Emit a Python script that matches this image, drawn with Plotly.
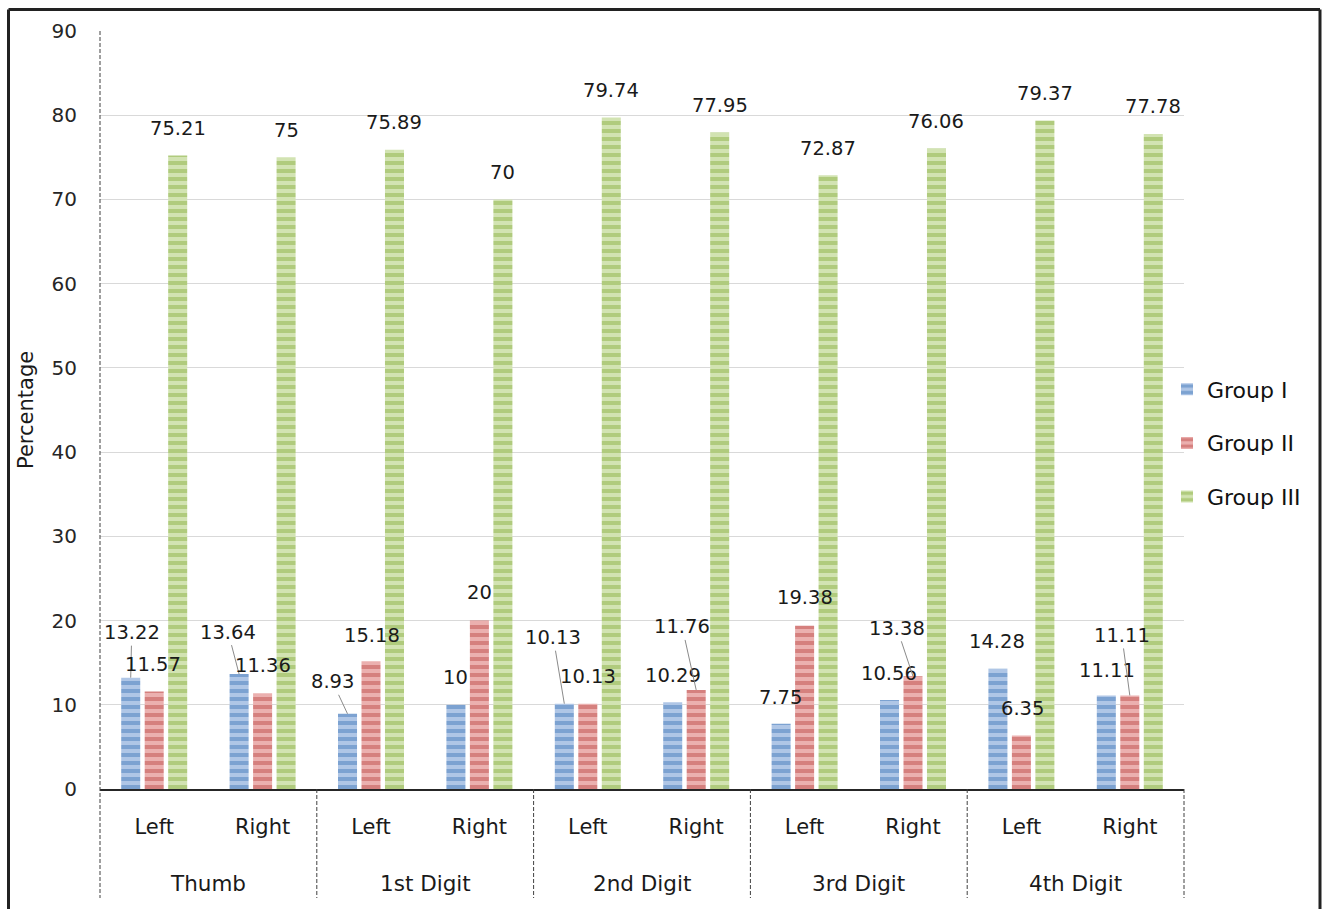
import plotly.graph_objects as go

# Finger-print pattern percentages by digit and hand
digits = ["Thumb", "1st Digit", "2nd Digit", "3rd Digit", "4th Digit"]
sides = ["Left", "Right"]
group_i = [13.22, 13.64, 8.93, 10, 10.13, 10.29, 7.75, 10.56, 14.28, 11.11]
group_ii = [11.57, 11.36, 15.18, 20, 10.13, 11.76, 19.38, 13.38, 6.35, 11.11]
group_iii = [75.21, 75, 75.89, 70, 79.74, 77.95, 72.87, 76.06, 79.37, 77.78]
y_ticks = [0, 10, 20, 30, 40, 50, 60, 70, 80, 90]

categories = [f"{d} {s}" for d in digits for s in sides]
side_labels = [s for d in digits for s in sides]

FONT = "DejaVu Sans"
W, H = 1325, 909
ML, MR, MT, MB = 100, 141, 31, 120
PW, PH = W - ML - MR, H - MT - MB


def px_x(p):
    return (p - ML) / PW


def px_y(p):
    return (H - MB - p) / PH


series = [
    ("Group I", group_i, "#AFC6E6", "#4A7EBB"),
    ("Group II", group_ii, "#EBB0AF", "#C0504D"),
    ("Group III", group_iii, "#D2E3B2", "#8DB448"),
]

fig = go.Figure()
for name, vals, light, dark in series:
    fig.add_trace(go.Bar(
        name=name, x=categories, y=vals, legendgroup=name,
        marker=dict(color=light, line=dict(width=0),
                    pattern=dict(shape="-", fgcolor=dark, bgcolor=light,
                                 size=8, solidity=0.5)),
    ))

# label placement per series: (dx, dy, leader line)
slot = PW / len(categories) * 0.65 / 3
label_offsets = [
    [(1, -45, True), (-11, -42, True), (-15, -32, True), (0, -27, False),
     (-11, -66, True), (0, -27, False), (-1, -26, False), (-1, -27, False),
     (-1, -27, False), (1, -25, False)],
    [(-1, -27, False), (0, -28, False), (1, -26, False), (0, -28, False),
     (0, -27, False), (-14, -63, True), (0, -28, False), (-16, -48, True),
     (1, -27, False), (-8, -60, True)],
    [(0, -27, False)] * 10,
]
for si, (name, vals, light, dark) in enumerate(series):
    shift = (si - 1) * slot
    for ci, v in enumerate(vals):
        dx, dy, leader = label_offsets[si][ci]
        fig.add_annotation(
            x=categories[ci], y=v, xref="x", yref="y", text=f"{v:g}",
            xshift=shift, showarrow=True, ax=dx, ay=dy, arrowhead=0,
            arrowwidth=1, standoff=0, startstandoff=0,
            arrowcolor="#8A8A8A" if leader else "rgba(0,0,0,0)",
            font=dict(family=FONT, size=19.5, color="#1a1a1a"),
        )

# digit names beneath the hand labels
for gi, d in enumerate(digits):
    fig.add_annotation(
        x=(gi * 2 + 1) / len(categories), y=px_y(883), xref="paper", yref="paper",
        text=d, showarrow=False, xanchor="center", yanchor="middle",
        font=dict(family=FONT, size=21.5, color="#1a1a1a"),
    )

# y-axis title
fig.add_annotation(
    x=px_x(26), y=0.5, xref="paper", yref="paper", text="Percentage",
    textangle=-90, showarrow=False, xanchor="center", yanchor="middle",
    font=dict(family=FONT, size=21, color="#1a1a1a"),
)

shapes = []
dash = dict(color="#404040", width=1, dash="4px,2px")
# dashed left axis and group separators
shapes.append(dict(type="line", xref="paper", yref="paper", x0=0, x1=0,
                   y0=1, y1=px_y(898), line=dash))
for k in range(1, len(digits) + 1):
    xx = k * 2 / len(categories)
    shapes.append(dict(type="line", xref="paper", yref="paper", x0=xx, x1=xx,
                       y0=0, y1=px_y(898), line=dash))
# outer frame
fl, fr, ft, fb = px_x(8.5), px_x(1320), px_y(9.5), px_y(960)
frame = dict(color="#222222", width=3)
shapes += [
    dict(type="line", xref="paper", yref="paper", x0=fl, x1=fr, y0=ft, y1=ft, line=frame),
    dict(type="line", xref="paper", yref="paper", x0=fl, x1=fl, y0=ft, y1=fb, line=frame),
    dict(type="line", xref="paper", yref="paper", x0=fr, x1=fr, y0=ft, y1=fb, line=frame),
]

fig.update_layout(
    width=W, height=H, autosize=False,
    margin=dict(l=ML, r=MR, t=MT, b=MB),
    paper_bgcolor="white", plot_bgcolor="white",
    barmode="group", bargap=0.35, bargroupgap=0.19,
    font=dict(family=FONT, color="#1a1a1a"),
    shapes=shapes,
    legend=dict(x=px_x(1167), y=px_y(443), xanchor="left", yanchor="middle",
                traceorder="grouped", tracegroupgap=22, bgcolor="rgba(0,0,0,0)",
                font=dict(family=FONT, size=22, color="#111111")),
    xaxis=dict(type="category", tickmode="array", tickvals=categories,
               ticktext=side_labels, ticks="", ticklabelstandoff=18,
               showline=True, linecolor="#262626", linewidth=2,
               showgrid=False, tickfont=dict(family=FONT, size=21, color="#1a1a1a")),
    yaxis=dict(range=[0, 90], tickmode="array", tickvals=y_ticks,
               showgrid=True, gridcolor="#D9D9D9", gridwidth=1,
               zeroline=False, showline=False, ticks="", ticklabelstandoff=22,
               tickfont=dict(family=FONT, size=20, color="#262626")),
)

fig.write_html("out.html")
